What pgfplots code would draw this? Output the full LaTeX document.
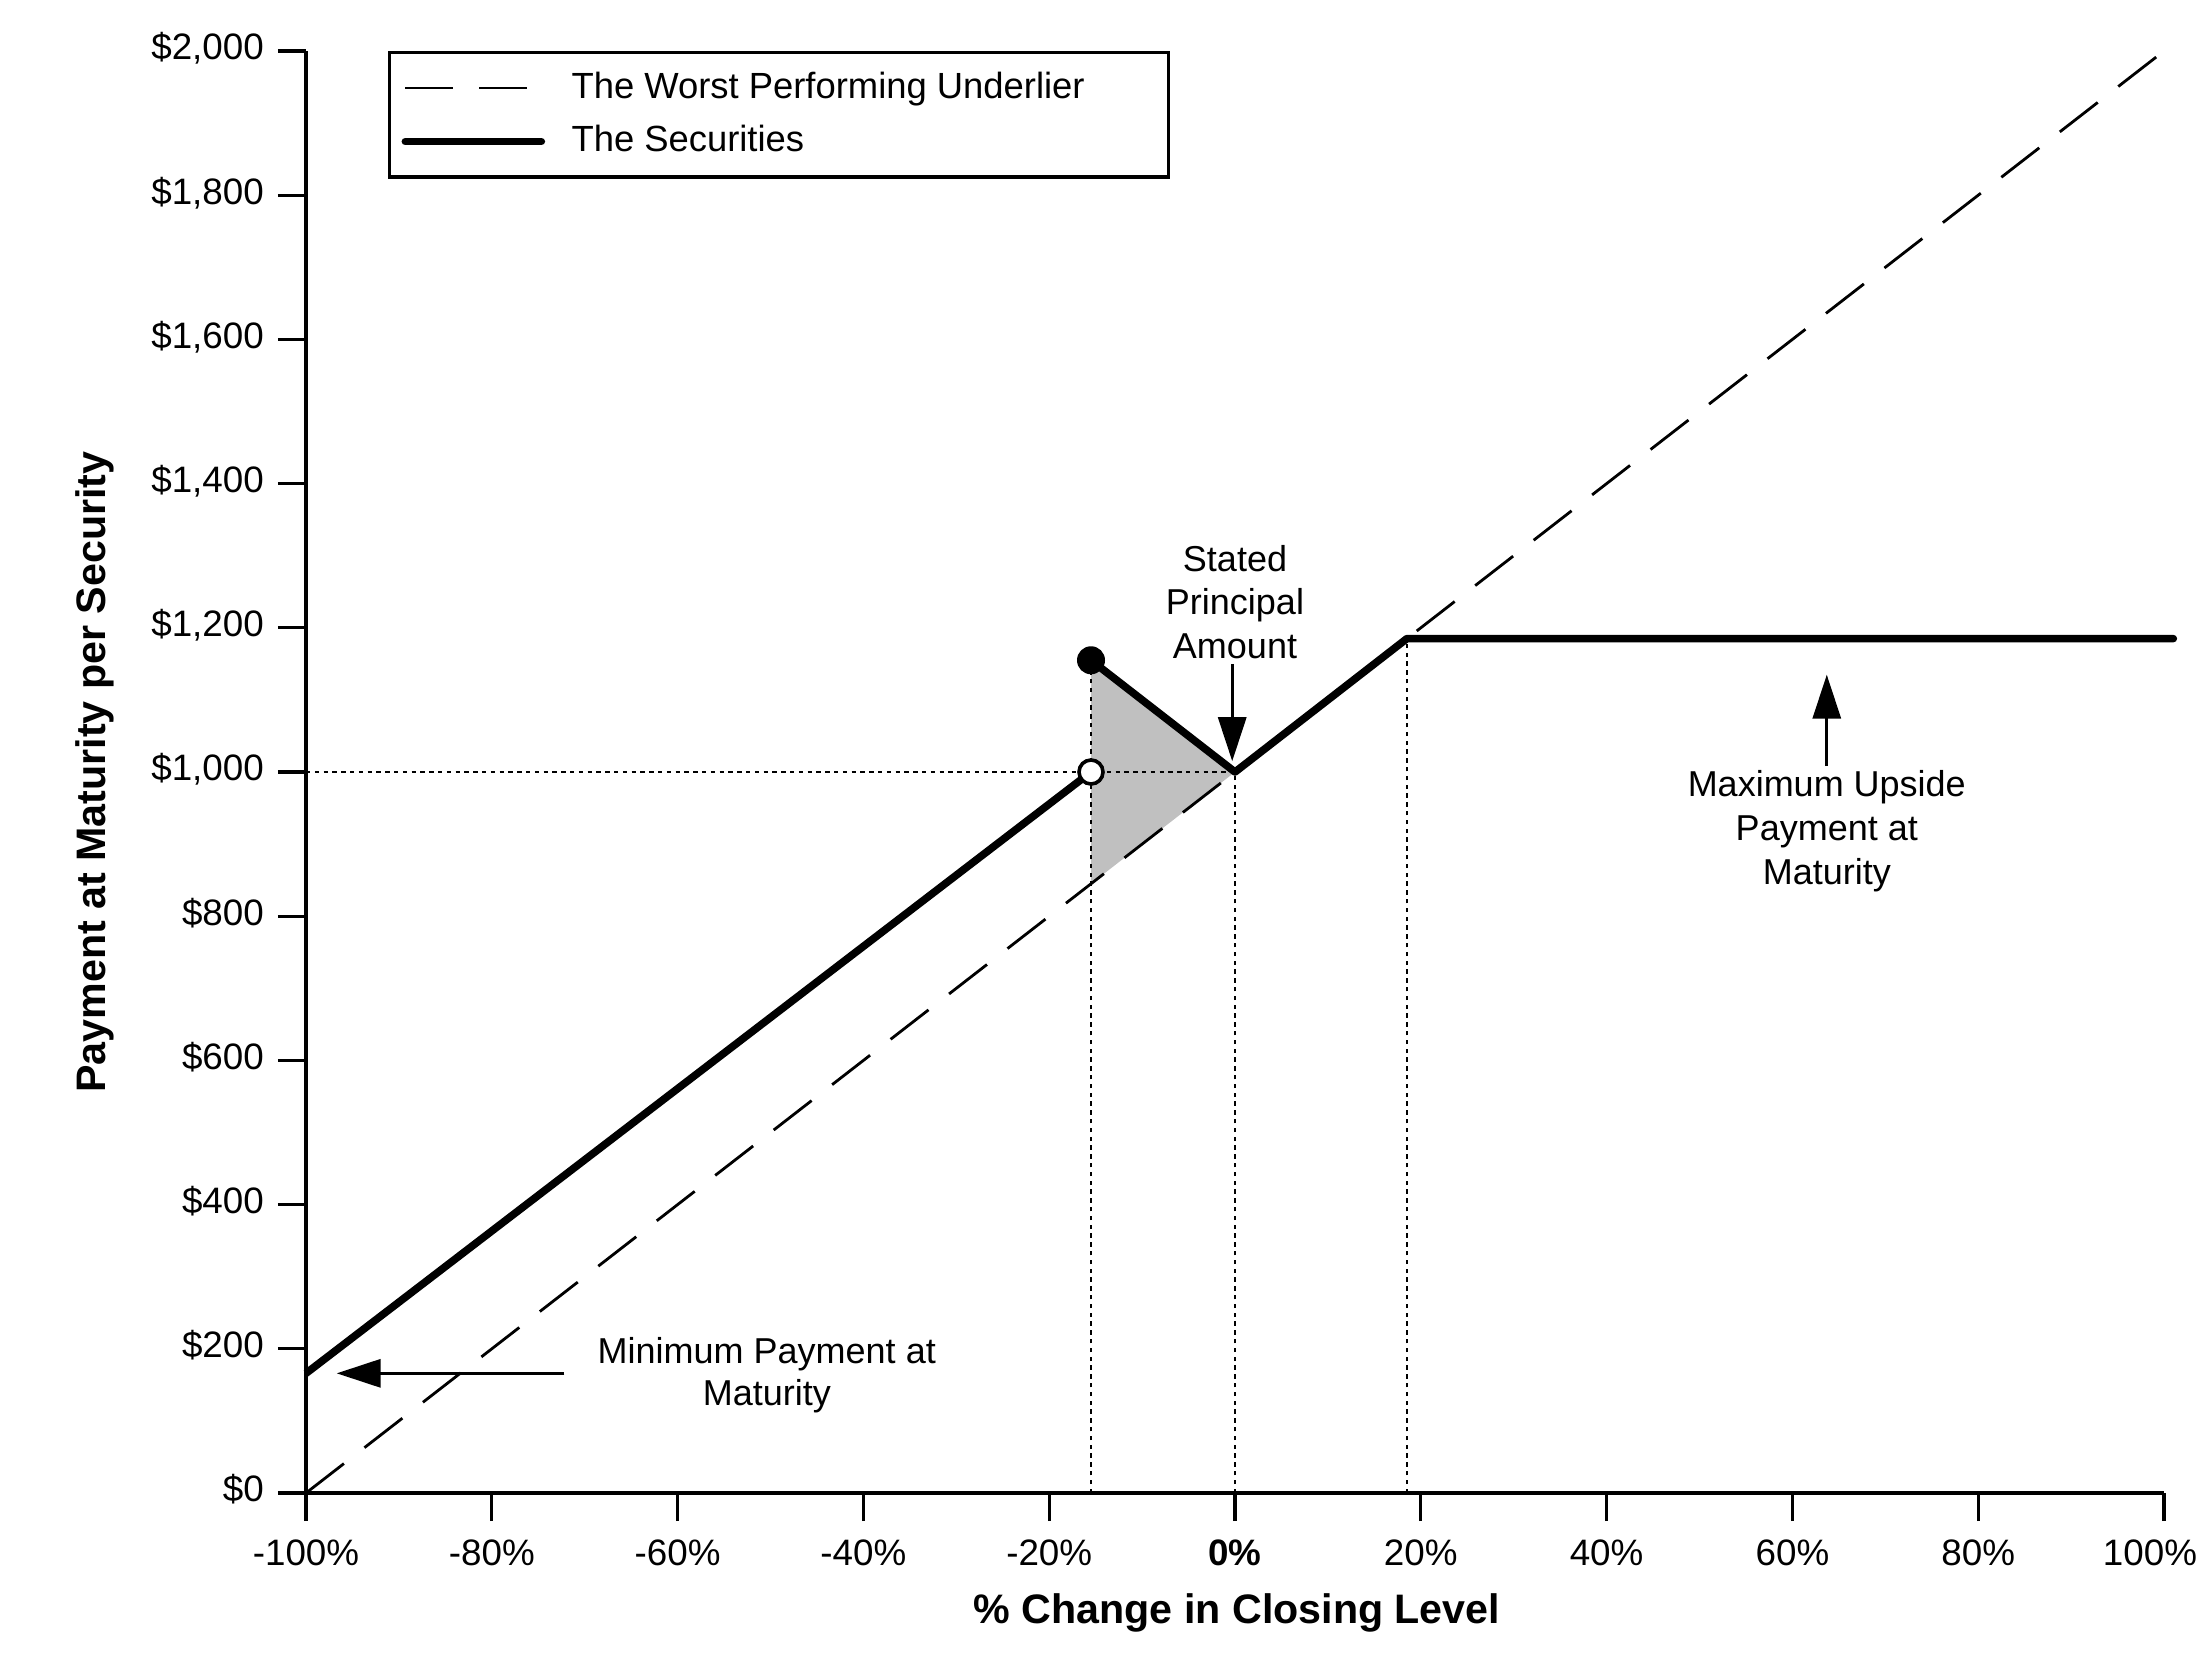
\documentclass[border=0pt]{standalone}
\usepackage{fontspec}
\setmainfont{Liberation Sans}
\usepackage{pgfplots}
\pgfplotsset{compat=1.18}
\usetikzlibrary{arrows.meta}
\definecolor{shade}{HTML}{C0C0C0}
\begin{document}
\begin{tikzpicture}
\begin{axis}[
  at={(0pt,0pt)}, anchor=south west,
  scale only axis, width=464.5pt, height=360.5pt,
  xmin=-100, xmax=100, ymin=0, ymax=2000,
  clip=false,
  axis x line*=bottom, axis y line*=left,
  axis line style={-, line width=0.8pt, black},
  xtick={-100,-80,-60,-40,-20,0,20,40,60,80,100},
  xticklabels={-100\%,-80\%,-60\%,-40\%,-20\%,\textbf{0\%},20\%,40\%,60\%,80\%,\hspace*{-7pt}100\%},
  ytick={0,200,400,600,800,1000,1200,1400,1600,1800,2000},
  yticklabels={\$0,\$200,\$400,\$600,\$800,{\$1,000},{\$1,200},{\$1,400},{\$1,600},{\$1,800},{\$2,000}},
  tick align=outside, major tick length=7pt,
  tick style={line width=0.8pt, black},
  tick label style={font=\fontsize{9.2}{11}\selectfont},
  typeset ticklabels with strut,
  every axis x label/.style={at={(axis description cs:0.501,-0.0835)}, anchor=center},
  every axis y label/.style={at={(axis description cs:-0.1135,0.5)}, rotate=90, anchor=center},
  xlabel={\fontsize{10.3}{12}\selectfont\bfseries \% Change in Closing Level},
  ylabel={\fontsize{10.3}{12}\selectfont\bfseries Payment at Maturity per Security},
  legend style={at={(rel axis cs:0.0441,1)}, anchor=north west, draw=black, line width=0.8pt,
    font=\fontsize{9.1}{11}\selectfont, cells={anchor=west}, inner xsep=3pt, inner ysep=2.8pt, row sep=1.3pt,
    /tikz/every odd column/.append style={column sep=4.6pt}},
  legend image code/.code={\draw[#1] (0pt,0pt) -- (34pt,0pt);},
]
% shaded region
\addplot[fill=shade, draw=none, forget plot] coordinates {(-15.5,845) (-15.5,1155) (0,1000)} -- cycle;
% dotted guide lines
\addplot[black, line width=0.5pt, dash pattern=on 1.1pt off 1.1pt, forget plot] coordinates {(-100,1000) (0,1000)};
\addplot[black, line width=0.5pt, dash pattern=on 1.1pt off 1.1pt, forget plot] coordinates {(-15.5,0) (-15.5,1155)};
\addplot[black, line width=0.5pt, dash pattern=on 1.1pt off 1.1pt, forget plot] coordinates {(0,0) (0,1000)};
\addplot[black, line width=0.5pt, dash pattern=on 1.1pt off 1.1pt, forget plot] coordinates {(18.5,0) (18.5,1185)};
% underlier
\addplot[black, line width=0.7pt, dash pattern=on 12pt off 6.5pt] coordinates {(-100,0) (100,2000)};
\addlegendentry{The Worst Performing Underlier\hspace*{16pt}\mbox{}}
% securities
\addplot[black, line width=1.9pt, line cap=round, line join=round] coordinates {(-15.5,1155) (0,1000) (18.5,1185) (101,1185)};
\addlegendentry{The Securities}
\addplot[black, line width=1.9pt, forget plot] coordinates {(-100,166) (-15.5,1000)};
\addplot[only marks, mark=*, mark size=3.3pt, black, forget plot] coordinates {(-15.5,1155)};
\addplot[only marks, mark=*, mark size=3pt, mark options={fill=white, draw=black, line width=0.9pt}, forget plot] coordinates {(-15.5,1000)};
% annotations
\node[align=center, font=\fontsize{9}{10.9}\selectfont] at (axis cs:0,1236) {Stated\\Principal\\Amount};
\draw[-{Triangle[length=11pt,width=7pt]}, line width=0.8pt] (axis cs:-0.3,1150) -- (axis cs:-0.3,1015);
\node[align=center, font=\fontsize{9}{10.9}\selectfont] at (axis cs:63.7,918) {Maximum Upside\\Payment at\\Maturity};
\draw[-{Triangle[length=11pt,width=7pt]}, line width=0.8pt] (axis cs:63.7,1008) -- (axis cs:63.7,1135);
\node[align=center, font=\fontsize{9}{10.5}\selectfont] at (axis cs:-50.4,163.5) {Minimum Payment at\\Maturity};
\draw[-{Triangle[length=11pt,width=7pt]}, line width=0.8pt] (axis cs:-72.2,166) -- (axis cs:-96.7,166);
\end{axis}
\pgfresetboundingbox
\path (-76.5pt,-42.75pt) rectangle (474.5pt,373.25pt);
\end{tikzpicture}
\end{document}
